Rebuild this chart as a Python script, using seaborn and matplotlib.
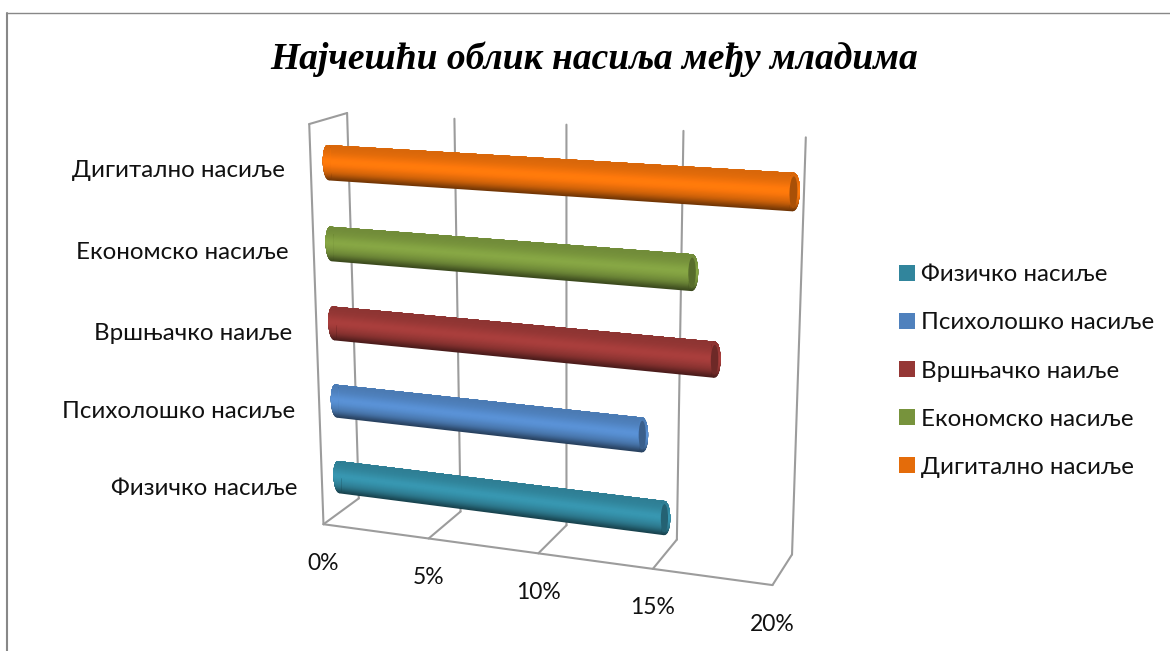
import numpy as np
import pandas as pd
import seaborn as sns
from matplotlib import pyplot as plt
from matplotlib.colors import to_rgb
from matplotlib.lines import Line2D
from matplotlib.patches import Ellipse, Patch
from matplotlib.path import Path
from matplotlib.transforms import Transform

forms = ['Физичко насиље', 'Психолошко насиље', 'Вршњачко наиље', 'Економско насиље', 'Дигитално насиље']
shares = [15, 14, 17, 16, 20]
bar_colors = ['#31859C', '#4F81BD', '#953735', '#77933C', '#E46C0A']
tick_values = [0, 5, 10, 15, 20]
tick_labels = ['0%', '5%', '10%', '15%', '20%']
title = 'Најчешћи облик насиља међу младима'

W, H = 1170, 651
sns.set_theme(style='white')
plt.rcParams['font.family'] = ['Lato', 'Noto Sans', 'DejaVu Sans']

# the chart box seen in the reference: (value, height, depth) -> pixel
box_3d = [(0, 0, 0), (5, 0, 0), (15, 0, 0), (20, 0, 0), (0, 1, 0), (5, 1, 0), (15, 1, 0), (20, 1, 0),
          (0, 0, 1), (5, 0, 1), (10, 0, 1), (15, 0, 1), (20, 0, 1), (0, 1, 1)]
box_px = [(359, 500), (460, 508), (677, 540), (792, 556), (347, 113), (455, 119), (683, 131), (806, 137),
          (323, 525), (429, 539), (539, 553), (653, 568), (772, 585), (309, 124)]


def fit_camera(pts, px):
    rows, rhs = [], []
    for (x, y, z), (u, v) in zip(pts, px):
        rows.append([x, y, z, 1, 0, 0, 0, 0, -u * x, -u * y, -u * z])
        rhs.append(u)
        rows.append([0, 0, 0, 0, x, y, z, 1, -v * x, -v * y, -v * z])
        rhs.append(v)
    p = np.linalg.lstsq(np.array(rows, float), np.array(rhs, float), rcond=None)[0]
    cam = np.append(p, 1).reshape(3, 4)
    return np.array([[1, 0, 0], [0, -1, H], [0, 0, 1]]) @ cam


class Plane(Transform):
    input_dims = 2
    output_dims = 2

    def __init__(self, m):
        super().__init__()
        self.m = m

    def transform_non_affine(self, values):
        h = np.c_[values, np.ones(len(values))] @ self.m.T
        return h[:, :2] / h[:, 2:]

    def transform_path_non_affine(self, path):
        return Path(self.transform_non_affine(path.vertices), path.codes)


cam = fit_camera(box_3d, box_px)
wall = Plane(np.c_[cam[:, 0], cam[:, 1], cam[:, 3]])
floor = Plane(np.c_[cam[:, 0], cam[:, 2], cam[:, 3]])
side = Plane(np.c_[cam[:, 1], cam[:, 2], cam[:, 3]])
# bars stand half way into the box, five rows high
bars = Plane(np.c_[cam[:, 0], cam[:, 1] / 5, cam[:, 1] * 0.47 / 5 + cam[:, 2] * 0.55 + cam[:, 3]])

fig = plt.figure(figsize=(W / 100, H / 100), dpi=100)
ax = fig.add_axes([0, 0, 1, 1])
ax.axis('off')

grid = dict(color='#9C9C9C', lw=1.5, zorder=0.5, clip_on=False)
for v in tick_values:
    ax.plot([v, v], [0, 1], transform=wall, **grid)
    ax.plot([v, v], [0, 1], transform=floor, **grid)
ax.plot([0, 20], [1, 1], transform=floor, **grid)
ax.plot([0, 1], [1, 1], transform=side, **grid)
ax.plot([1, 1], [0, 1], transform=side, **grid)

# cylinder: bottom to top brightness
shade_stops = [0.5, 0.62, 0.76, 0.88, 0.96, 1.02, 1.08, 1.12, 1.14, 1.12, 1.08, 1.04, 1.0, 0.98, 0.96, 0.95]
shade = np.interp(np.linspace(0, 15, 32), np.arange(16), shade_stops)
half = 0.215
df = pd.DataFrame({'form': forms, 'share': shares, 'row': range(len(forms))})
step = 2 * half / len(shade)


def tint(color, k):
    return tuple(np.clip(np.array(to_rgb(color)) * k, 0, 1))


for k, s in enumerate(shade):
    lo = -half + k * step
    strip = df.assign(pos=df['row'] + (lo + half) / 2)
    palette = {f: tint(c, s) for f, c in zip(forms, bar_colors)}
    sns.barplot(data=strip, x='share', y='pos', hue='form', palette=palette, orient='h', native_scale=True,
                width=half - lo, dodge=False, saturation=1, errorbar=None, legend=False, linewidth=0, ax=ax)
for p in ax.patches:
    p.set_transform(bars)
    p.set_clip_on(False)

# rounded ends, same shading clipped strip by strip, overlapping the bar a little to hide the seam
cap_w = 0.5
for r, (v, c) in enumerate(zip(shares, bar_colors)):
    for k, s in enumerate(shade):
        lo = r - half + k * step
        top = r + half + 0.1
        for x, x0, x1 in ((0, -2, 0.12), (v, v - 0.12, v + 2)):
            band = Path([(x0, lo), (x1, lo), (x1, top), (x0, top), (x0, lo)])
            e = Ellipse((x, r), cap_w, 2 * half, fc=tint(c, s), ec='none', transform=bars)
            ax.add_patch(e)
            e.set_clip_path(band, bars)
    ax.add_patch(Ellipse((v, r), cap_w * 0.62, 2 * half * 0.82, fc=tint(c, 0.74), ec='none', transform=bars))

for r, f in enumerate(forms):
    ax.text(-2.05, r - 0.22 + 0.0225 * r, f, transform=bars, ha='right', va='center', fontsize=17.4, color='#111111')
for v, t in zip(tick_values, tick_labels):
    ax.annotate(t, xy=(v, 1), xycoords=floor, xytext=(0, -39), textcoords='offset pixels',
                ha='center', va='center', fontsize=16.5, color='#111111')

handles = [Patch(fc=c, ec='none') for c in bar_colors]
fig.legend(handles, forms, loc='center left', bbox_to_anchor=(877 / W, 1 - 371 / H), frameon=False, fontsize=17.4,
           handlelength=0.66, handleheight=0.66, handletextpad=0.25, labelspacing=1.12, labelcolor='#111111')

fig.text(594.5 / W, 1 - 59 / H, title, ha='center', va='center', fontsize=27, color='black',
         family='Liberation Serif', weight='bold', style='italic')

fig.add_artist(Line2D([7 / W, 7 / W], [0, 1 - 13 / H], color='#888888', lw=1.5))
fig.add_artist(Line2D([7 / W, 1], [1 - 13 / H, 1 - 13 / H], color='#888888', lw=1.0))

fig.savefig('out.png', dpi=100)
